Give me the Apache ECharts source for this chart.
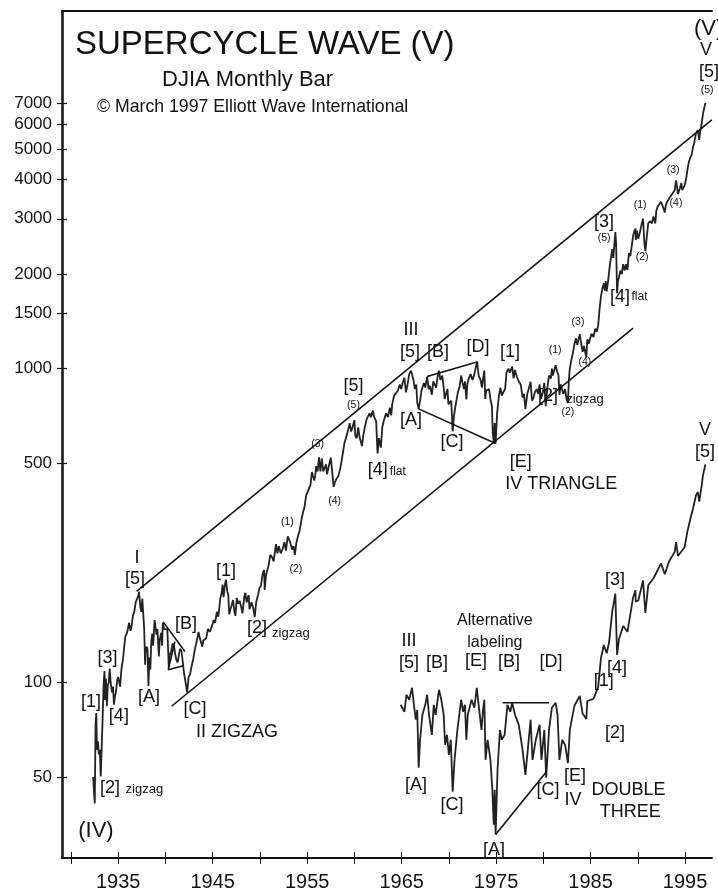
<!DOCTYPE html>
<html><head><meta charset="utf-8">
<script src="https://cdn.jsdelivr.net/npm/echarts@6/dist/echarts.min.js"></script>
<style>html,body{margin:0;padding:0;background:#fff}#c{width:718px;height:896px}</style>
</head><body><div id="c"></div>
<script>
// ---------- axis ticks ----------
const xTickYears = [1930,1935,1940,1945,1950,1955,1960,1965,1970,1975,1980,1985,1990,1995];
const xLabelYears = [1935,1945,1955,1965,1975,1985,1995];
const yTickValues = [50,100,500,1000,1500,2000,3000,4000,5000,6000,7000];

// ---------- DJIA monthly (year, value) ----------
const djia1930s = [[1932.35,50],[1932.45,44],[1932.52,41.2],[1932.6,73],[1932.68,79.9],[1932.75,61],[1932.85,65],[1932.95,59],[1933.05,61],[1933.15,50.2],[1933.25,62],[1933.35,77],[1933.45,98],[1933.55,108.7],[1933.6,88],[1933.7,103],[1933.8,84],[1933.9,98],[1934.0,100],[1934.1,110.7],[1934.2,100],[1934.35,93],[1934.45,97],[1934.55,85],[1934.65,90],[1934.75,93],[1934.9,102],[1935.0,104],[1935.2,97],[1935.35,111],[1935.5,118],[1935.6,127],[1935.75,140],[1935.9,143],[1936.0,147],[1936.15,155],[1936.3,146],[1936.4,150],[1936.55,163],[1936.7,168],[1936.85,180],[1937.0,180],[1937.15,190],[1937.2,194.4],[1937.35,174],[1937.45,168],[1937.55,185],[1937.65,187],[1937.75,148],[1937.85,114],[1937.9,125],[1938.0,130],[1938.1,128],[1938.2,97.5],[1938.3,120],[1938.4,110],[1938.5,135],[1938.6,143],[1938.7,131],[1938.85,158],[1938.95,150],[1939.05,142],[1939.15,148],[1939.3,121],[1939.4,137],[1939.55,144],[1939.65,131],[1939.72,155],[1939.85,148]];
const djia1940s = [[1940.0,150],[1940.2,148],[1940.35,112],[1940.45,122],[1940.6,126],[1940.75,133],[1940.9,131],[1941.0,125],[1941.15,118],[1941.3,116],[1941.45,124],[1941.55,128],[1941.7,126],[1941.85,115],[1941.95,108],[1942.1,108],[1942.3,92.9],[1942.45,104],[1942.6,106],[1942.75,112],[1942.95,119],[1943.1,127],[1943.3,135],[1943.5,145],[1943.65,138],[1943.9,130],[1944.0,136],[1944.3,138],[1944.5,148],[1944.7,145],[1944.95,152],[1945.1,158],[1945.25,155],[1945.45,168],[1945.6,162],[1945.8,185],[1945.95,193],[1946.05,205],[1946.15,187],[1946.3,205],[1946.4,212.5],[1946.55,195],[1946.65,190],[1946.75,165],[1946.8,163],[1946.9,172],[1947.0,176],[1947.15,183],[1947.3,168],[1947.4,163],[1947.55,186],[1947.7,178],[1947.85,182],[1948.0,175],[1948.15,166],[1948.35,188],[1948.45,193],[1948.6,180],[1948.8,190],[1948.9,171],[1949.1,180],[1949.3,172],[1949.45,161.6],[1949.6,180],[1949.8,190],[1949.95,200]];
const djia1950s = [[1950.1,203],[1950.3,223],[1950.45,228],[1950.5,197],[1950.65,220],[1950.9,235],[1951.1,255],[1951.3,250],[1951.45,243],[1951.7,276],[1951.85,258],[1952.0,272],[1952.2,258],[1952.4,266],[1952.6,280],[1952.75,263],[1952.95,292],[1953.05,293],[1953.2,280],[1953.4,265],[1953.55,272],[1953.7,255],[1953.85,278],[1954.0,290],[1954.2,305],[1954.4,330],[1954.55,348],[1954.7,360],[1954.9,395],[1955.05,405],[1955.2,400],[1955.35,425],[1955.5,468],[1955.65,470],[1955.75,440],[1955.85,455],[1955.95,488],[1956.1,470],[1956.25,521],[1956.4,470],[1956.55,518],[1956.7,470],[1956.85,475],[1957.0,495],[1957.1,460],[1957.3,490],[1957.5,520],[1957.65,470],[1957.8,420],[1957.95,435],[1958.1,445],[1958.3,455],[1958.5,480],[1958.7,520],[1958.95,580],[1959.1,600],[1959.35,640],[1959.5,670],[1959.65,630],[1959.8,650]];
const djia1960s = [[1960.0,685],[1960.1,610],[1960.25,600],[1960.4,650],[1960.55,605],[1960.8,566],[1960.95,615],[1961.1,650],[1961.3,690],[1961.45,680],[1961.6,720],[1961.75,700],[1961.95,735],[1962.1,700],[1962.3,680],[1962.45,536],[1962.6,600],[1962.8,560],[1962.95,650],[1963.1,680],[1963.35,720],[1963.55,700],[1963.75,750],[1963.9,710],[1964.0,770],[1964.2,820],[1964.4,810],[1964.6,850],[1964.8,890],[1964.95,860],[1965.1,900],[1965.3,935],[1965.45,840],[1965.6,880],[1965.8,960],[1966.0,985],[1966.1,995],[1966.25,920],[1966.4,860],[1966.55,890],[1966.65,780],[1966.8,744],[1966.95,790],[1967.1,850],[1967.35,900],[1967.5,870],[1967.7,943],[1967.85,860],[1968.0,880],[1968.2,825],[1968.35,910],[1968.5,900],[1968.65,870],[1968.85,960],[1968.95,985],[1969.1,920],[1969.3,950],[1969.45,870],[1969.55,800],[1969.7,830],[1969.85,860],[1969.95,770]];
const djia1970s = [[1970.1,760],[1970.25,790],[1970.4,631],[1970.55,710],[1970.7,760],[1970.85,770],[1970.95,840],[1971.15,880],[1971.3,950],[1971.45,900],[1971.6,860],[1971.7,910],[1971.85,797],[1971.95,890],[1972.1,930],[1972.3,960],[1972.5,920],[1972.7,960],[1972.9,1025],[1973.0,1051],[1973.15,950],[1973.35,920],[1973.5,870],[1973.6,920],[1973.75,985],[1973.85,800],[1973.95,850],[1974.1,860],[1974.25,860],[1974.4,800],[1974.55,760],[1974.65,620],[1974.75,584],[1974.85,670],[1974.95,577],[1975.1,720],[1975.3,820],[1975.45,870],[1975.6,820],[1975.75,840],[1975.95,860],[1976.1,970],[1976.3,1000],[1976.45,970],[1976.7,1014],[1976.85,930],[1977.0,990],[1977.2,940],[1977.4,910],[1977.6,890],[1977.8,810],[1977.95,830],[1978.1,742],[1978.3,830],[1978.5,820],[1978.65,907],[1978.8,790],[1978.95,805],[1979.1,840],[1979.3,860],[1979.45,830],[1979.6,890],[1979.75,800],[1979.95,840]];
const djia1980s = [[1980.1,900],[1980.25,759],[1980.4,860],[1980.6,950],[1980.8,930],[1980.9,1000],[1981.0,950],[1981.2,1000],[1981.3,1024],[1981.45,980],[1981.6,950],[1981.7,824],[1981.85,890],[1981.95,880],[1982.1,830],[1982.3,860],[1982.45,800],[1982.6,777],[1982.7,920],[1982.8,1000],[1982.95,1060],[1983.1,1110],[1983.3,1200],[1983.45,1250],[1983.6,1190],[1983.85,1287],[1984.0,1270],[1984.15,1130],[1984.3,1180],[1984.45,1120],[1984.55,1087],[1984.65,1240],[1984.8,1200],[1984.95,1210],[1985.1,1290],[1985.3,1260],[1985.5,1340],[1985.65,1310],[1985.8,1370],[1985.95,1550],[1986.1,1700],[1986.25,1800],[1986.4,1870],[1986.5,1770],[1986.6,1900],[1986.7,1760],[1986.85,1900],[1986.95,1900],[1987.05,2150],[1987.15,2250],[1987.3,2400],[1987.4,2250],[1987.5,2450],[1987.62,2722],[1987.7,2500],[1987.8,1739],[1987.9,1900],[1988.0,1950],[1988.15,2050],[1988.3,2000],[1988.45,2150],[1988.6,2050],[1988.75,2150],[1988.9,2060],[1989.05,2330],[1989.2,2280],[1989.35,2450],[1989.5,2650],[1989.65,2750],[1989.75,2791],[1989.78,2570],[1989.9,2750]];
const djia1990s = [[1990.05,2590],[1990.2,2700],[1990.4,2880],[1990.55,2999],[1990.7,2500],[1990.8,2365],[1990.95,2630],[1991.1,2900],[1991.3,2950],[1991.5,2900],[1991.65,3050],[1991.85,2900],[1991.95,3170],[1992.1,3280],[1992.3,3350],[1992.45,3400],[1992.7,3250],[1992.85,3140],[1992.95,3300],[1993.1,3400],[1993.3,3450],[1993.5,3550],[1993.7,3600],[1993.9,3700],[1994.05,3978],[1994.25,3593],[1994.45,3750],[1994.6,3900],[1994.7,3700],[1994.85,3700],[1994.95,3830],[1995.1,4000],[1995.25,4300],[1995.4,4550],[1995.55,4700],[1995.7,4800],[1995.85,5100],[1995.95,5200],[1996.05,5400],[1996.15,5600],[1996.35,5750],[1996.5,5350],[1996.6,5700],[1996.75,6000],[1996.9,6500],[1997.0,6500],[1997.1,6900],[1997.15,7022]];

// ---------- alternative-labeling copy (values as plotted in the lower panel) ----------
const alt1960s = [[1964.9,84.9],[1965.3,80.7],[1965.5,91.4],[1965.8,88.1],[1966.1,96.2],[1966.3,84.9],[1966.5,76.1],[1966.65,81.8],[1966.8,53.5],[1966.95,65.7],[1967.2,78.9],[1967.5,84.9],[1967.7,91.4],[1967.9,78.9],[1968.2,68.1],[1968.4,84.9],[1968.6,78.9],[1968.95,94.8],[1969.2,88.1],[1969.45,78.9],[1969.6,63.3],[1969.8,68.1]];
const alt1970s = [[1970.0,58.8],[1970.2,65.7],[1970.4,44.9],[1970.6,56.7],[1970.9,70.6],[1971.3,88.1],[1971.5,80.7],[1971.7,84.9],[1971.85,65.7],[1972.0,78.9],[1972.4,88.1],[1972.7,83.1],[1972.95,96.2],[1973.15,84.9],[1973.45,70.6],[1973.6,80.7],[1973.75,88.1],[1973.88,56.7],[1974.1,65.7],[1974.4,56.7],[1974.6,45.5],[1974.75,35.2],[1974.85,45.5],[1974.95,32.8],[1975.15,52.7],[1975.4,70.6],[1975.6,65.7],[1975.9,68.1],[1976.2,84.9],[1976.5,80.7],[1976.7,86.2],[1977.0,78.9],[1977.4,73.3],[1977.8,61.0],[1978.1,50.8],[1978.4,63.3],[1978.65,76.1],[1978.85,56.7],[1979.2,65.7],[1979.6,73.3],[1979.8,56.7]];
const alt1980s = [[1980.1,70.6],[1980.3,49.7],[1980.6,70.6],[1980.9,83.1],[1981.3,86.2],[1981.5,78.9],[1981.7,56.7],[1982.0,65.7],[1982.3,63.3],[1982.6,55.4],[1982.8,70.4],[1982.95,74.6],[1983.3,84.5],[1983.85,90.6],[1984.15,79.6],[1984.55,76.5],[1984.65,87.3],[1985.3,88.7],[1985.8,96.5],[1986.1,119.7],[1986.4,131.7],[1986.7,123.9],[1986.95,133.8],[1987.3,169],[1987.62,191.7],[1987.8,122.5],[1988.0,137.3],[1988.45,151.4],[1988.9,145],[1989.5,186.6],[1989.75,196.5],[1989.78,181]];
const alt1990s = [[1990.05,182.4],[1990.55,211.2],[1990.8,166.5],[1991.1,204],[1991.65,214.8],[1991.95,223.2],[1992.45,239.4],[1992.85,221.1],[1993.3,243],[1993.9,260.6],[1994.05,280.1],[1994.25,253],[1994.95,269.7],[1995.25,302.8],[1995.55,331],[1995.85,359],[1996.15,394],[1996.35,405],[1996.5,376.8],[1996.75,422.5],[1996.9,457.7],[1997.0,457.7],[1997.15,494.5]];

// ---------- drawn lines (year, value) ----------
const upperChannel = [[1936.95,195],[1997.83,6195]];
const lowerChannel = [[1940.65,84],[1989.5,1346]];
const triangleLower = [[1966.8,744],[1974.95,577]];
const triangleUpper = [[1967.7,943],[1973.05,1051]];
const smallTriUpper = [[1939.76,156],[1942.06,125.5]];
const smallTriLower = [[1940.29,109.8],[1941.88,113]];
const smallTriLeft = [[1940.29,109.8],[1941.0,135]];
const altTriangle = [[1974.95,32.8],[1980.3,51.9]];
const altTriTop = [[1975.7,86.2],[1980.6,86.2]];

// ---------- annotations [year, value, text] ----------
const labelsWave = [
  [1932.11,86.8,'[1]'],[1933.86,119.9,'[3]'],[1935.07,78.3,'[4]'],[1934.12,46.2,'[2]'],
  [1936.98,250,'I'],[1936.77,214,'[5]'],[1938.25,90,'[A]'],[1942.17,153.8,'[B]'],[1943.12,82.5,'[C]'],
  [1946.4,226.9,'[1]'],[1949.68,149.4,'[2]'],[1959.9,881,'[5]'],[1962.48,476,'[4]'],
  [1965.98,1328,'III'],[1965.88,1130,'[5]'],[1965.98,686,'[A]'],[1968.85,1130,'[B]'],[1970.33,584,'[C]'],
  [1973.08,1172,'[D]'],[1977.6,505,'[E]'],[1976.48,1130,'[1]'],[1980.5,815,'[2]'],
  [1986.43,2930,'[3]'],[1988.1,1690,'[4]'],[1997.22,10350,'V'],[1997.53,8810,'[5]'],
  [1965.77,135.8,'III'],[1965.77,115.6,'[5]'],[1968.74,115.6,'[B]'],[1972.87,117.3,'[E]'],[1976.36,116.4,'[B]'],[1980.81,116.4,'[D]'],
  [1966.52,47.2,'[A]'],[1970.33,40.7,'[C]'],[1974.78,29.3,'[A]'],[1980.5,45.5,'[C]'],[1983.36,50.5,'[E]'],[1983.15,42.3,'IV'],
  [1986.4,101,'[1]'],[1987.58,69.2,'[2]'],[1987.58,212,'[3]'],[1987.8,111,'[4]'],[1997.12,637,'V'],[1997.12,543,'[5]']
];
const labelsSmall = [
  [1952.9,325,'(1)'],[1953.8,230,'(2)'],[1956.1,575,'(3)'],[1957.9,378,'(4)'],[1959.9,766,'(5)'],
  [1981.24,1146,'(1)'],[1982.6,728,'(2)'],[1983.67,1406,'(3)'],[1984.4,1050,'(4)'],[1986.43,2606,'(5)'],
  [1990.24,3318,'(1)'],[1990.45,2270,'(2)'],[1993.73,4285,'(3)'],[1994.04,3364,'(4)'],[1997.33,7710,'(5)']
];
const labelsZigzag = [[1937.77,45.5,'zigzag'],[1953.27,142.9,'zigzag'],[1984.4,800,'zigzag']];
const labelsFlat = [[1964.6,471,'flat'],[1990.18,1690,'flat']];
const labelsText = [[1947.58,69.7,'II ZIGZAG'],[1981.9,428,'IV TRIANGLE'],[1989.0,45.5,'DOUBLE'],[1989.2,38.7,'THREE']];
const labelsNote = [[1974.87,157.9,'Alternative'],[1974.87,133.6,'labeling']];
const labelsDegree = [[1932.64,33.7,'(IV)'],[1997.5,12080,'(V)']];

const X_MIN = 1929.05, X_MAX = 1997.85, Y_MIN = 27.6, Y_MAX = 13770;
const FONT = '"Liberation Sans", Arial, sans-serif';
const INK = '#111111';

const chart = echarts.init(document.getElementById('c'), null, {renderer: 'canvas'});
const lg = v => Math.log10(v);
const yTickPos = yTickValues.map(lg);

function priceLine(data, w) {
  return {type: 'line', data, xAxisIndex: 0, yAxisIndex: 0, showSymbol: false, symbol: 'none',
    lineStyle: {color: '#222', width: w || 1.3}, animation: false, z: 3, clip: true};
}
function drawn(data) {
  return {type: 'line', data, xAxisIndex: 0, yAxisIndex: 0, showSymbol: false, symbol: 'none',
    lineStyle: {color: INK, width: 1.6}, animation: false, z: 4};
}
function textSeries(list, size) {
  return {type: 'scatter', xAxisIndex: 0, yAxisIndex: 0, symbol: 'circle', symbolSize: 1,
    itemStyle: {color: 'rgba(0,0,0,0)'}, animation: false, z: 6, silent: true,
    data: list.map(d => ({value: [d[0], d[1]], name: d[2]})),
    label: {show: true, position: 'inside', formatter: '{b}', color: INK, opacity: 1,
      textBorderWidth: 0, textBorderColor: 'transparent', fontSize: size, fontFamily: FONT}};
}

const mainData = [].concat(djia1930s, djia1940s, djia1950s, djia1960s, djia1970s, djia1980s, djia1990s);
const altData = [].concat(alt1960s, alt1970s, alt1980s, alt1990s);

const option = {
  backgroundColor: '#fff',
  animation: false,
  grid: {left: 62, right: 6, top: 11, bottom: 38, containLabel: false},
  xAxis: [
    {type: 'value', min: X_MIN, max: X_MAX, position: 'bottom',
      axisLine: {onZero: false, lineStyle: {color: INK, width: 2}},
      axisTick: {customValues: xTickYears, length: 6, lineStyle: {color: INK, width: 1}},
      axisLabel: {customValues: xLabelYears, fontSize: 20, color: INK, margin: 14, fontFamily: FONT,
        formatter: v => String(Math.round(v))},
      splitLine: {show: false}},
    {type: 'value', min: X_MIN, max: X_MAX, position: 'bottom', offset: -6,
      axisLine: {show: true, onZero: false, lineStyle: {color: 'rgba(0,0,0,0)'}},
      axisTick: {customValues: xTickYears, length: 6, lineStyle: {color: INK, width: 1}},
      axisLabel: {show: false}, splitLine: {show: false}},
    {type: 'value', min: X_MIN, max: X_MAX, position: 'top',
      axisLine: {onZero: false, lineStyle: {color: INK, width: 2}},
      axisTick: {show: false}, axisLabel: {show: false}, splitLine: {show: false}}
  ],
  yAxis: [
    {type: 'log', logBase: 10, min: Y_MIN, max: Y_MAX, position: 'left',
      axisLine: {show: false}, axisTick: {show: false}, axisLabel: {show: false}, splitLine: {show: false}},
    {type: 'value', min: lg(Y_MIN), max: lg(Y_MAX), position: 'left',
      axisLine: {onZero: false, lineStyle: {color: INK, width: 2.5}},
      axisTick: {customValues: yTickPos, length: 5, lineStyle: {color: INK, width: 1.2}},
      axisLabel: {customValues: yTickPos, fontSize: 17, color: INK, margin: 10, fontFamily: FONT,
        formatter: v => String(Math.round(Math.pow(10, v)))},
      splitLine: {show: false}},
    {type: 'value', min: lg(Y_MIN), max: lg(Y_MAX), position: 'left', offset: -5,
      axisLine: {show: true, onZero: false, lineStyle: {color: 'rgba(0,0,0,0)'}},
      axisTick: {customValues: yTickPos, length: 5, lineStyle: {color: INK, width: 1.2}},
      axisLabel: {show: false}, splitLine: {show: false}}
  ],
  graphic: [
    {type: 'text', x: 75, y: 45, style: {text: 'SUPERCYCLE WAVE (V)', fontSize: 33, fontFamily: FONT, fill: INK, align: 'left', verticalAlign: 'middle'}},
    {type: 'text', x: 162, y: 80, style: {text: 'DJIA Monthly Bar', fontSize: 22, fontFamily: FONT, fill: INK, align: 'left', verticalAlign: 'middle'}},
    {type: 'text', x: 97, y: 107, style: {text: '\u00A9 March 1997 Elliott Wave International', fontSize: 17.7, fontFamily: FONT, fill: INK, align: 'left', verticalAlign: 'middle'}}
  ],
  series: [
    priceLine(mainData, 1.8),
    priceLine(altData, 1.8),
    drawn(upperChannel), drawn(lowerChannel), drawn(triangleLower), drawn(triangleUpper),
    drawn(smallTriUpper), drawn(smallTriLower), drawn(smallTriLeft), drawn(altTriangle), drawn(altTriTop),
    textSeries(labelsWave, 18),
    textSeries(labelsSmall, 10.5),
    textSeries(labelsZigzag, 13),
    textSeries(labelsFlat, 12),
    textSeries(labelsText, 18),
    textSeries(labelsNote, 16),
    textSeries(labelsDegree, 22)
  ]
};
chart.setOption(option);
</script>
</body></html>
